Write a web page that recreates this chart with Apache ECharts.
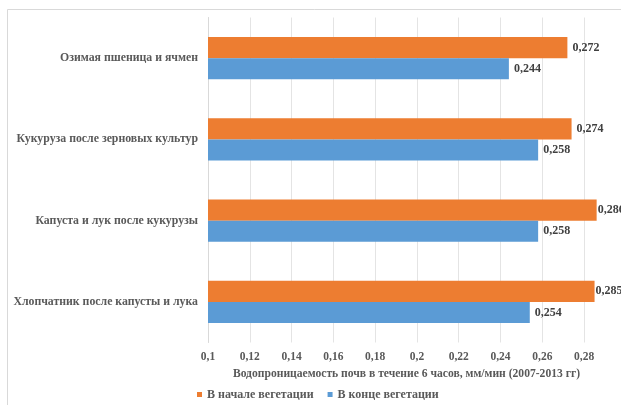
<!DOCTYPE html>
<html>
<head>
<meta charset="utf-8">
<script src="https://cdn.jsdelivr.net/npm/echarts@6/dist/echarts.min.js"></script>
<style>
  html, body { margin: 0; padding: 0; background: #fff; overflow: hidden; }
  #chart { width: 621px; height: 405px; }
</style>
</head>
<body>
<div id="chart"></div>
<script>
// Crop rotations (top to bottom)
const categories = [
  'Озимая пшеница и ячмен',
  'Кукуруза после зерновых культур',
  'Капуста и лук после кукурузы',
  'Хлопчатник после капусты и лука'
];
// Soil water permeability over 6 hours, mm/min
const startOfSeason = [0.272, 0.274, 0.286, 0.285];
const endOfSeason = [0.244, 0.258, 0.258, 0.254];
const seriesNames = ['В начале вегетации', 'В конце вегетации'];
const axisTitle = 'Водопроницаемость почв в течение 6 часов, мм/мин (2007-2013 гг)';

const FONT = '"Liberation Serif", "DejaVu Serif", serif';
const AXIS_MIN = 0.1, AXIS_MAX = 0.29, AXIS_STEP = 0.02;
const comma = (v, d) => (d === undefined ? String(+v.toFixed(2)) : v.toFixed(d)).replace('.', ',');

const chart = echarts.init(document.getElementById('chart'), null, { renderer: 'canvas' });

const valueLabel = {
  show: true,
  position: 'right',
  distance: 5,
  fontFamily: FONT,
  fontWeight: 'bold',
  fontSize: 12,
  color: '#404040',
  formatter: p => comma(p.value, 3)
};

// Labels of bars that run near the plot's right edge sit tight against the bar end
const withLabels = values => values.map(v => (
  v > 0.28 ? { value: v, label: { distance: 1 } } : v
));

chart.setOption({
  animation: false,
  backgroundColor: '#ffffff',
  graphic: [{
    type: 'rect',
    z: -10,
    silent: true,
    shape: { x: 7.5, y: 9.5, width: 700, height: 500 },
    style: { fill: 'none', stroke: '#d9d9d9', lineWidth: 1 }
  }],
  grid: { left: 208, right: 16, top: 17.5, bottom: 62.5, containLabel: false },
  legend: {
    left: 192,
    top: 383.5,
    icon: 'rect',
    itemWidth: 5,
    itemHeight: 5,
    itemGap: 14,
    textStyle: { fontFamily: FONT, fontWeight: 'bold', fontSize: 12, color: '#595959' },
    data: seriesNames
  },
  xAxis: {
    type: 'value',
    min: AXIS_MIN,
    max: AXIS_MAX,
    interval: AXIS_STEP,
    name: axisTitle,
    nameLocation: 'middle',
    nameGap: 24,
    nameTextStyle: { fontFamily: FONT, fontWeight: 'bold', fontSize: 11.6, color: '#595959' },
    axisLine: { show: false },
    axisTick: { show: false },
    axisLabel: {
      margin: 9,
      showMaxLabel: false,
      fontFamily: FONT, fontWeight: 'bold', fontSize: 11.5, color: '#595959',
      formatter: v => (v > 0.285 ? '' : comma(v))
    },
    splitLine: { show: true, showMaxLine: false, lineStyle: { color: '#e4e4e4', width: 1 } }
  },
  yAxis: {
    type: 'category',
    inverse: true,
    data: categories,
    axisLine: { show: true, lineStyle: { color: '#d9d9d9' } },
    axisTick: { show: false },
    axisLabel: {
      margin: 10,
      fontFamily: FONT, fontWeight: 'bold', fontSize: 11.8, color: '#595959'
    }
  },
  series: [
    {
      name: seriesNames[0],
      type: 'bar',
      data: withLabels(startOfSeason),
      itemStyle: { color: '#ED7D31' },
      barGap: '0%',
      barCategoryGap: '48%',
      label: valueLabel
    },
    {
      name: seriesNames[1],
      type: 'bar',
      data: withLabels(endOfSeason),
      itemStyle: { color: '#5B9BD5' },
      barGap: '0%',
      barCategoryGap: '48%',
      label: valueLabel
    }
  ]
});
</script>
</body>
</html>
